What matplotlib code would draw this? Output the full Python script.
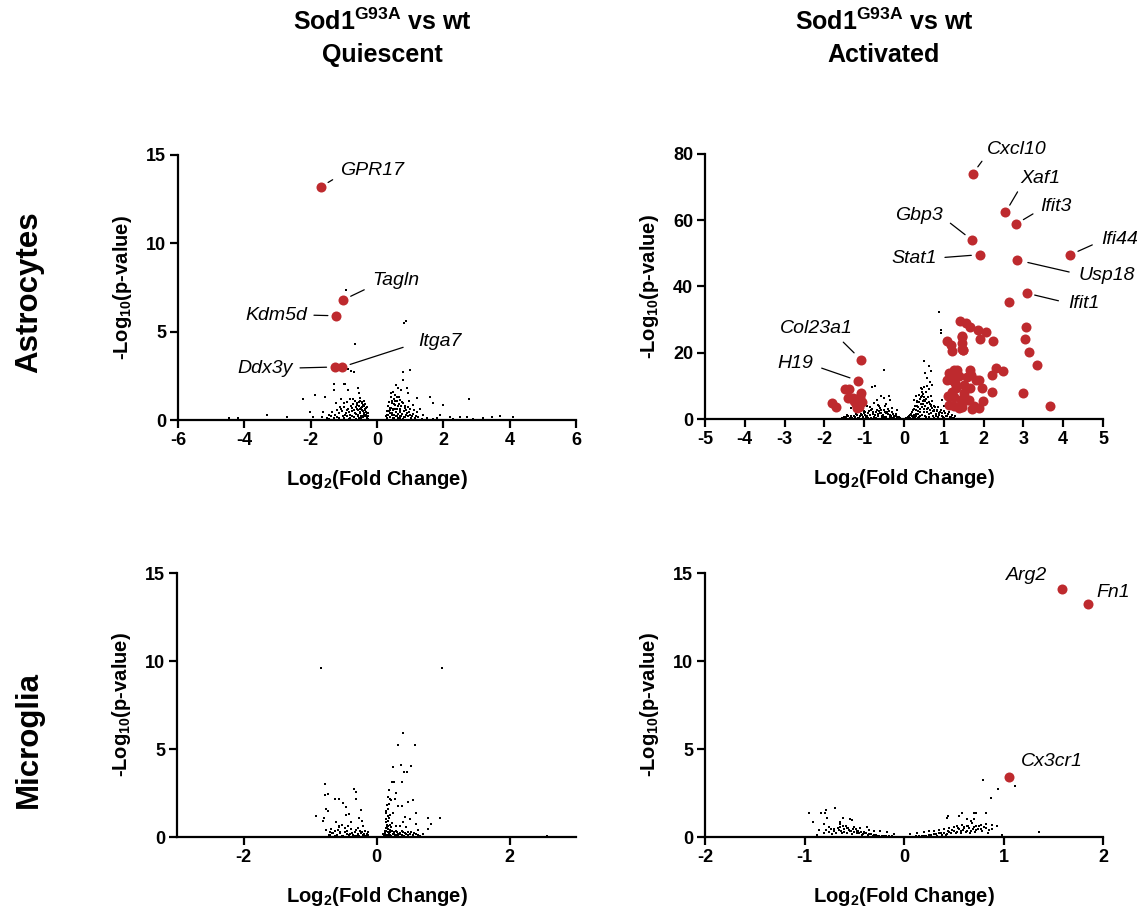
import matplotlib
matplotlib.use("Agg")
import matplotlib.pyplot as plt

plt.rcParams['font.family'] = ['Liberation Sans', 'DejaVu Sans']
plt.rcParams['mathtext.fontset'] = 'custom'
plt.rcParams['mathtext.rm'] = 'Liberation Sans'
plt.rcParams['mathtext.it'] = 'Liberation Sans:italic'
plt.rcParams['mathtext.bf'] = 'Liberation Sans:bold'
plt.rcParams['axes.unicode_minus'] = False

RED = '#BE2A2E'

# ---------------- Data ----------------
# Panel A: Astrocytes, Quiescent
a_q_bg_x = [-0.94, 0.82, 0.86, -0.66, -0.86, -0.78, -0.68, -1.31, -1.01, -0.96, -0.86, -0.56, -0.53, -0.81, -0.73,
            -1.29, -1.58, -2.22, -1.86, 0.77, 0.99, 0.79, 0.64, 0.71, 0.89, 0.94, 1.20, 0.59, 0.44, 0.69, 0.79, 0.94,
            0.49, 0.39, 0.69, 0.99, 1.20, 1.40, 1.60, 2.00, 1.70, 2.77, 2.20, 2.50, 2.70, 3.48, 3.70, 4.11, 1.90, 0.29,
            0.39, -1.25, -1.11, -1.01, -0.91, -0.76, -0.61, -0.46, -0.36, -0.31, -0.51, -0.66, -0.96, -1.16, -1.44,
            -1.62, -1.67, -4.45, -4.18, -3.32, -2.72, -2.02, -1.92, -0.55, -0.50, -0.45, -0.40, -0.35, -0.60, -0.42,
            -0.38, -0.48, -0.58, -0.70, -0.80, -0.85, -0.90, -1.00, -1.05, -1.20, -1.30, -1.35, -1.50, -0.30, -0.28,
            -0.33, -0.65, -0.72, -0.75, -0.90, -1.10, -0.62, -0.85, -0.50, -0.44, 0.30, 0.35, 0.40, 0.45, 0.50, 0.50,
            0.55, 0.55, 0.60, 0.62, 0.65, 0.70, 0.72, 0.75, 0.80, 0.85, 0.85, 0.90, 0.95, 1.00, 1.05, 1.10, 1.15, 1.25,
            1.35, 0.42, 0.48, 0.58, 0.52, 0.68, 0.78, 0.88, 1.30, 1.50, 1.70, 1.80, 2.30, 2.90, 3.20]
a_q_bg_y = [7.38, 5.51, 5.62, 4.28, 2.90, 2.77, 2.71, 2.04, 2.04, 2.04, 1.70, 1.80, 1.50, 1.20, 1.20,
            1.70, 1.30, 1.18, 1.41, 2.73, 2.85, 2.26, 1.79, 1.70, 1.79, 1.51, 1.26, 1.32, 0.94, 1.13, 0.94, 0.75,
            0.57, 0.38, 0.47, 0.28, 0.43, 0.28, 1.32, 0.85, 0.94, 1.19, 0.19, 0.19, 0.19, 0.19, 0.23, 0.15, 0.28, 0.28,
            0.19, 0.94, 0.75, 0.94, 0.57, 0.66, 0.85, 0.75, 0.57, 0.38, 0.47, 0.38, 0.28, 0.38, 0.28,
            0.47, 0.19, 0.13, 0.13, 0.28, 0.15, 0.47, 0.19, 1.00, 1.10, 0.95, 0.80, 0.90, 0.60, 0.50,
            0.30, 0.25, 0.20, 0.15, 0.30, 0.45, 0.20, 0.12, 0.50, 0.15, 0.10, 0.45, 0.10, 0.15, 0.05,
            0.70, 1.05, 0.90, 0.50, 1.00, 1.20, 0.05, 0.08, 0.60, 0.20, 0.10, 0.50, 0.70, 0.30, 0.90, 1.20,
            0.60, 1.05, 0.20, 0.80, 1.30, 0.60, 0.25, 1.00, 0.50, 0.80, 0.15, 0.40, 1.10, 0.60, 0.20, 0.85, 0.10, 0.15,
            0.08, 1.50, 1.60, 2.00, 0.12, 0.10, 0.06, 0.55, 0.60, 0.10, 0.05, 0.12, 0.08, 0.05, 0.10]
a_q_base_x = [-0.64, -0.62, -0.60, -0.57, -0.56, -0.54, -0.53, -0.52, -0.50, -0.49, -0.47, -0.46, -0.44, -0.43,
              -0.41, -0.40, -0.39, -0.37, -0.36, -0.34, -0.32, -0.30, -0.29, -0.27, -0.26, -0.70, -0.74, -0.78,
              -0.82, -0.88, -0.93, -0.98, -1.03, -1.08, -1.14, -1.20, -1.28, -1.38, -1.46,
              0.27, 0.29, 0.31, 0.33, 0.34, 0.36, 0.38, 0.40, 0.41, 0.43, 0.44, 0.46, 0.47, 0.49, 0.51, 0.53, 0.54,
              0.56, 0.57, 0.59, 0.61, 0.63, 0.64, 0.66, 0.68, 0.70, 0.73, 0.76, 0.80, 0.83, 0.87, 0.92, 0.97, 1.02,
              1.08, 1.12, 1.18]
a_q_base_y = [0.35, 0.72, 0.95, 0.30, 0.55, 0.82, 0.12, 1.25, 0.38, 0.70, 0.10, 1.00, 0.55, 0.85,
              0.15, 0.40, 1.10, 0.65, 0.20, 0.48, 0.30, 0.75, 0.12, 0.40, 0.20, 0.55, 0.25, 0.80,
              0.12, 0.65, 0.38, 0.75, 0.20, 0.60, 0.10, 0.55, 0.30, 0.20, 0.08,
              0.20, 0.50, 0.08, 0.80, 0.30, 1.00, 0.55, 0.15, 1.30, 0.70, 0.40, 1.10, 0.10, 0.60, 0.30, 1.40, 0.85,
              0.20, 0.45, 1.05, 0.65, 0.10, 0.35, 0.90, 0.50, 0.20, 0.80, 0.35, 0.15, 0.70, 0.30, 0.20, 0.45, 0.12,
              0.35, 0.55, 0.25]
a_q_genes = ['GPR17', 'Tagln', 'Kdm5d', 'Ddx3y', 'Itga7']
a_q_x = [-1.69, -1.02, -1.23, -1.27, -1.05]
a_q_y = [13.2, 6.8, 5.9, 3.0, 3.0]
a_q_lab_x = [-1.11, -0.15, -2.11, -2.53, 1.23]
a_q_lab_y = [14.1, 7.87, 5.94, 2.94, 4.43]

# Panel B: Astrocytes, Activated
a_a_bg_x = [0.88, 0.92, 0.92, -0.49, 0.50, 0.62, 0.67, 0.54, 0.58, 0.65, 0.71, 0.50, 0.42, 0.46, 0.37, 0.29, 0.25,
            0.33, 0.50, 0.58, 0.67, 0.75, 0.83, 0.88, 0.96, 1.00, 0.96, -0.80, -0.72, -0.59, -0.51, -0.38, -0.34,
            -0.67, -0.76, -0.93, -0.84, -1.01, -0.63, -0.47, -0.30, -0.17, -1.34, -1.43,
            -1.50, -1.40, -1.30, -1.20, -1.10, -1.00, -0.95, -0.90, -0.85, -0.80, -0.75, -0.70, -0.65, -0.60, -0.55,
            -0.50, -0.45, -0.40, -0.35, -0.30, -0.25, -0.20, -0.15, -0.10, -0.05, -1.15, -0.90, -0.70, -0.50, -0.30,
            -1.25, -1.05, -0.62, -0.42, -0.58, -0.78, -0.98, -0.20, -0.35,
            0.05, 0.10, 0.15, 0.20, 0.22, 0.25, 0.30, 0.32, 0.35, 0.38, 0.40, 0.42, 0.45, 0.48, 0.50, 0.52, 0.55,
            0.58, 0.60, 0.62, 0.65, 0.70, 0.72, 0.75, 0.80, 0.85, 0.90, 0.95, 1.00, 1.05, 1.10, 1.15, 1.20, 1.25,
            0.35, 0.55, 0.75, 0.68, 0.45, 0.30, 0.47, 0.57, 0.62, 0.40, 0.85, 1.00]
a_a_bg_y = [32.3, 26.9, 25.9, 14.7, 17.4, 15.9, 14.4, 13.9, 12.4, 11.3, 10.3, 9.6, 9.3, 8.3, 7.3, 6.8, 5.8,
            5.3, 5.8, 4.8, 3.8, 2.8, 2.3, 1.8, 5.8, 3.8, 1.8, 9.6, 10.0, 6.8, 6.3, 6.8, 5.8,
            5.8, 4.8, 3.8, 2.8, 1.8, 3.8, 3.8, 3.3, 2.8, 3.3, 1.3,
            0.5, 1.0, 0.4, 1.5, 0.8, 2.5, 0.6, 1.8, 1.2, 3.0, 0.7, 2.2, 1.5, 3.2, 0.9,
            2.6, 1.8, 3.0, 1.2, 2.0, 0.8, 1.4, 0.5, 0.3, 0.1, 0.2, 0.3, 0.4, 0.5, 0.3,
            0.9, 1.3, 2.4, 2.2, 1.9, 1.6, 1.1, 0.1, 0.6,
            0.2, 0.6, 1.2, 2.0, 0.5, 3.0, 1.4, 4.0, 2.4, 5.0, 1.0, 6.5, 3.5, 7.5, 2.0, 5.5, 8.0,
            3.0, 6.5, 1.5, 4.5, 5.5, 2.5, 4.0, 1.5, 3.5, 2.0, 1.0, 2.5, 0.8, 1.5, 0.5, 1.2, 0.4,
            0.3, 0.6, 0.3, 7.0, 9.0, 0.8, 4.5, 10.0, 9.0, 3.0, 0.6, 0.2]
a_a_base_x = [-1.55, -1.45, -1.35, -1.32, -1.22, -1.18, -1.12, -1.07, -1.02, -0.97, -0.92, -0.88, -0.83, -0.79,
              -0.74, -0.69, -0.66, -0.61, -0.57, -0.53, -0.48, -0.44, -0.41, -0.37, -0.33, -0.28, -0.24, -0.21,
              -0.17, -0.13, -0.08, -0.72, -0.55, -0.38, -1.00, -0.85, -0.65, -0.45,
              0.07, 0.12, 0.14, 0.17, 0.19, 0.23, 0.24, 0.27, 0.28, 0.31, 0.33, 0.34, 0.36, 0.37, 0.39, 0.41, 0.43,
              0.44, 0.46, 0.47, 0.49, 0.51, 0.53, 0.54, 0.56, 0.57, 0.59, 0.61, 0.63, 0.64, 0.66, 0.68, 0.69, 0.71,
              0.73, 0.76, 0.78, 0.81, 0.83, 0.87, 0.92, 0.97, 1.03, 1.08, 1.13, 1.18, 1.22, 1.28]
a_a_base_y = [0.3, 0.6, 0.2, 0.9, 0.5, 1.1, 0.3, 1.6, 0.5, 2.0, 0.9, 2.4, 0.4, 2.2,
              1.3, 2.7, 0.8, 1.9, 2.8, 1.3, 2.1, 0.6, 1.5, 2.3, 0.9, 1.5, 0.4, 0.9,
              0.3, 0.6, 0.15, 0.15, 0.2, 0.15, 0.1, 3.5, 4.2, 4.5,
              0.4, 1.0, 0.3, 1.6, 0.8, 2.6, 1.2, 3.8, 0.6, 2.6, 5.0, 1.5, 3.6, 0.5, 6.0, 2.0, 4.5,
              7.0, 1.2, 5.5, 3.0, 6.5, 1.0, 4.0, 6.0, 2.2, 4.8, 3.2, 5.0, 0.6, 2.8, 4.2, 1.8, 3.3,
              1.0, 2.4, 3.5, 0.8, 2.8, 1.3, 2.6, 0.6, 1.8, 1.0, 2.2, 0.6, 0.3, 0.8]
a_a_genes = ['Cxcl10', 'Xaf1', 'Ifit3', 'Gbp3', 'Stat1', 'Ifi44', 'Usp18', 'Ifit1', 'Col23a1', 'H19']
a_a_x = [1.73, 2.55, 2.82, 1.70, 1.90, 4.18, 2.84, 3.08, -1.08, -1.16]
a_a_y = [74.1, 62.4, 58.9, 54.1, 49.6, 49.6, 48.0, 38.0, 17.9, 11.6]
a_a_lab_x = [2.09, 2.93, 3.43, 0.985, 0.82, 4.96, 4.39, 4.12, -1.28, -2.27]
a_a_lab_y = [81.5, 72.7, 64.3, 61.3, 48.6, 54.3, 43.2, 35.0, 27.2, 16.7]
a_a_sig_x = [2.63, 1.40, 1.56, 1.67, 1.86, 2.05, 1.09, 1.46, 1.92, 2.23, 1.17, 1.21, 1.46, 1.49, 3.07, 3.04, 3.15,
             3.35, 1.13, 1.25, 1.34, 1.09, 1.21, 1.29, 1.17, 1.38, 1.30, 1.20, 1.10, 1.25, 1.13, 1.25, 1.38, 1.21,
             1.65, 1.69, 1.80, 1.88, 1.95, 1.65, 1.50, 1.42, 1.59, 1.76, 1.88, 1.99, 2.20, 2.22, 2.32, 2.48, 2.99,
             3.66, 1.46, 1.46, 1.49, 1.59, 1.50, 1.63, 1.46, 1.50, 1.71,
             -1.48, -1.38, -1.07, -1.40, -1.27, -1.10, -1.20, -1.13, -1.18, -1.82, -1.72, -1.25, -1.05]
a_a_sig_y = [35.4, 29.6, 29.1, 27.9, 26.9, 26.4, 23.6, 24.7, 24.1, 23.4, 22.4, 20.4, 21.1, 20.7, 27.7, 24.1, 20.1,
             16.4, 13.9, 14.9, 14.9, 11.9, 11.9, 10.8, 13.4, 13.0, 9.3, 8.3, 7.0, 6.5, 4.3, 3.8, 3.3, 6.8,
             14.9, 13.4, 11.9, 11.9, 9.3, 9.3, 7.8, 5.8, 5.8, 3.8, 3.3, 5.3, 8.3, 13.4, 15.4, 14.6, 7.8,
             3.8, 25.1, 22.9, 20.9, 12.8, 10.3, 5.8, 3.6, 6.8, 3.1,
             9.0, 9.0, 7.8, 6.3, 6.3, 6.5, 4.5, 3.5, 3.2, 4.8, 3.5, 5.5, 5.0]

# Panel C: Microglia, Quiescent
m_q_bg_x = [-0.83, 0.98, 0.40, 0.33, 0.58, 0.25, 0.37, 0.52, 0.41, 0.46, 0.23, 0.27, 0.39, 0.19, 0.29, 0.475,
            0.556, 0.20, 0.225, 0.275, 0.16, 0.325, 0.385, 0.60, 0.43, 0.50, 0.40, 0.60, 0.15, 0.20, 0.25, 0.14,
            0.175, 0.225, 0.35, 0.45, 0.626, 0.776, 0.827, 0.952, 0.776, 0.15, 0.20, 0.30, 0.40, 0.50, 0.35, 0.10,
            0.125, -0.772, -0.727, -0.777, -0.627, -0.562, -0.341, -0.301, -0.311, -0.502, -0.466, -0.762, -0.722,
            -0.913, -0.792, -0.812, -0.466, -0.411, -0.236, -0.261, -0.221, -0.201, -0.612, -0.567, -0.517, -0.376,
            -0.677, -0.627, -0.552, -0.451, -0.326, -0.251, -0.176, -0.126, -0.752, -0.702, -0.401, -0.276, -0.150,
            -0.60, -0.50, -0.45, -0.35, -0.30, -0.20, -0.15, -0.65, -0.58, -0.48, -0.38, -0.28, -0.22, -0.70, 0.12,
            0.18, 0.22, 0.28, 0.32, 0.38, 0.42, 0.45, 0.48, 0.55, 0.60, 0.65, 0.14, 0.16, 0.18, 0.17, 0.19, 0.21,
            0.24, 0.26, 0.30, 0.70, 2.56]
m_q_bg_y = [9.6, 9.6, 5.93, 5.25, 5.25, 3.95, 4.08, 4.04, 3.70, 3.68, 3.10, 3.10, 3.10, 2.68, 2.49, 1.98,
            2.13, 2.15, 2.12, 2.15, 1.83, 1.77, 1.74, 1.36, 1.15, 1.02, 0.83, 0.74, 1.36, 1.27, 1.36, 1.02,
            0.64, 0.55, 0.64, 0.55, 0.42, 1.09, 0.74, 1.09, 0.45, 0.36, 0.26, 0.36, 0.26, 0.17, 0.17, 0.17,
            0.36, 3.02, 2.44, 2.36, 2.15, 2.15, 2.70, 2.55, 2.15, 1.93, 1.70, 1.59, 1.49,
            1.21, 1.09, 0.89, 1.27, 1.30, 1.55, 1.09, 0.89, 0.64, 0.85, 0.64, 0.68, 0.83,
            0.45, 0.36, 0.26, 0.36, 0.26, 0.36, 0.32, 0.26, 0.42, 0.26, 0.17, 0.17, 0.17,
            0.10, 0.08, 0.15, 0.10, 0.05, 0.10, 0.05, 0.20, 0.40, 0.50, 0.45, 0.50, 0.30, 0.10, 0.05,
            0.10, 0.05, 0.10, 0.05, 0.10, 0.05, 0.15, 0.30, 0.10, 0.15, 0.05, 0.50, 0.70, 0.90, 1.60, 1.10, 0.40,
            0.80, 0.30, 0.60, 0.15, 0.07]
m_q_base_x = [-0.55, -0.52, -0.47, -0.42, -0.37, -0.33, -0.31, -0.27, -0.24, -0.19, -0.17, -0.13, -0.62, -0.67,
              -0.72, -0.57, -0.43, 0.11, 0.13, 0.15, 0.17, 0.19, 0.21, 0.23, 0.25, 0.27, 0.29, 0.31, 0.33, 0.36,
              0.39, 0.43, 0.47, 0.52, 0.57, 0.62, 0.15, 0.17, 0.16, 0.18, 0.20, 0.14, 0.19, 0.18]
m_q_base_y = [0.20, 0.05, 0.30, 0.10, 0.25, 0.08, 0.40, 0.08, 0.22, 0.18, 0.08, 0.12, 0.08, 0.25,
              0.10, 0.55, 0.60, 0.10, 0.25, 0.10, 0.30, 0.20, 0.12, 0.35, 0.15, 0.25, 0.10, 0.30, 0.15, 0.25,
              0.35, 0.20, 0.10, 0.30, 0.20, 0.12, 0.85, 1.20, 0.55, 0.45, 0.70, 1.50, 1.90, 2.30]

# Panel D: Microglia, Activated
m_a_bg_x = [0.79, 1.12, 0.94, 0.87, 1.36, 0.828, 0.703, 0.72, 0.586, 0.435, 0.441, 0.552, 0.636, 0.67, 0.703,
            0.821, 0.888, 0.932, 0.77, 0.636, 0.602, 0.536, 0.502, 0.451, 0.40, 0.35, 0.30, 0.25, 0.20, 0.133,
            0.065, 0.569, 0.67, 0.72, 0.989, -0.958, -0.918, -0.831, -0.79, -0.78, -0.697, -0.773, -0.807, -0.612,
            -0.546, -0.522, -0.646, -0.757, -0.707, -0.64, -0.572, -0.505, -0.438, -0.371, -0.354, -0.304, -0.237,
            -0.169, -0.102, -0.874, -0.723, -0.606, -0.539, -0.471, -0.404, -0.64, -0.75, -0.70, -0.65, -0.60,
            -0.55, -0.50, -0.45, -0.40, -0.35, -0.30, -0.25, -0.20, -0.15, -0.10, -0.05, 0.0, 0.05, 0.10, 0.15,
            0.20, 0.25, 0.30, 0.35, 0.40, 0.45, 0.50, 0.55, 0.60, 0.65, 0.70, 0.75, 0.80, -0.62, -0.52, -0.42,
            0.42, 0.52, 0.62, 0.72, -0.48, -0.58, 0.58, 0.68, 0.85, -0.80, -0.85]
m_a_bg_y = [3.23, 2.87, 2.70, 2.21, 0.28, 1.36, 1.36, 1.36, 1.36, 1.09, 1.17, 1.17, 1.02, 0.89, 1.02,
            0.74, 0.68, 0.64, 0.45, 0.64, 0.55, 0.64, 0.55, 0.51, 0.45, 0.42, 0.36, 0.32, 0.26, 0.23,
            0.17, 0.36, 0.36, 0.64, 0.11, 1.36, 0.83, 1.36, 1.36, 1.51, 1.64, 1.09, 0.74, 1.09,
            1.02, 0.98, 0.83, 0.55, 0.45, 0.55, 0.51, 0.55, 0.51, 0.55, 0.42, 0.36, 0.32,
            0.26, 0.17, 0.11, 0.17, 0.26, 0.36, 0.36, 0.26, 0.74, 0.30, 0.35, 0.40, 0.45,
            0.40, 0.30, 0.25, 0.20, 0.15, 0.12, 0.08, 0.05, 0.03, 0.02, 0.01, 0.0, 0.01, 0.02, 0.04,
            0.06, 0.10, 0.15, 0.20, 0.25, 0.30, 0.35, 0.45, 0.50, 0.50, 0.55, 0.60, 0.55, 0.20, 0.15, 0.10,
            0.12, 0.20, 0.30, 0.40, 0.45, 0.60, 0.70, 0.80, 0.40, 0.20, 0.40]
m_a_base_x = [-0.78, -0.73, -0.68, -0.66, -0.63, -0.61, -0.57, -0.56, -0.53, -0.51, -0.47, -0.46, -0.43, -0.41,
              -0.38, -0.36, -0.33, -0.31, -0.28, -0.26, -0.22, -0.18, -0.12, -0.08, 0.08, 0.12, 0.18, 0.22, 0.27,
              0.32, 0.33, 0.37, 0.38, 0.43, 0.44, 0.47, 0.48, 0.53, 0.54, 0.57, 0.59, 0.63, 0.64, 0.66, 0.69, 0.71,
              0.74, 0.77, 0.78, 0.82, 0.84, 0.88]
m_a_base_y = [0.40, 0.45, 0.20, 0.50, 0.35, 0.60, 0.25, 0.50, 0.35, 0.45, 0.20, 0.35, 0.30, 0.15,
              0.22, 0.10, 0.18, 0.08, 0.12, 0.05, 0.08, 0.04, 0.03, 0.01, 0.01, 0.03, 0.05, 0.08, 0.12,
              0.18, 0.08, 0.22, 0.12, 0.18, 0.35, 0.22, 0.42, 0.30, 0.50, 0.25, 0.42, 0.35, 0.60, 0.25, 0.45, 0.30,
              0.48, 0.70, 0.35, 0.50, 0.25, 0.45]
m_a_genes = ['Arg2', 'Fn1', 'Cx3cr1']
m_a_x = [1.586, 1.85, 1.06]
m_a_y = [14.1, 13.25, 3.40]
m_a_lab_x = [1.44, 1.93, 1.18]
m_a_lab_y = [14.87, 13.87, 4.29]

# ---------------- Figure ----------------
fig = plt.figure(figsize=(11.43, 9.13), dpi=100)
W, H = 1143, 913


def make_ax(l, t, r, b):
    return fig.add_axes([l / W, 1 - b / H, (r - l) / W, (b - t) / H])


def style(ax, xlim, xticks, ylim, yticks):
    ax.set_xlim(*xlim)
    ax.set_ylim(*ylim)
    ax.set_xticks(xticks)
    ax.set_yticks(yticks)
    for s in ['top', 'right']:
        ax.spines[s].set_visible(False)
    for s in ['left', 'bottom']:
        ax.spines[s].set_linewidth(1.6)
    ax.tick_params(direction='out', length=5.5, width=1.6, labelsize=13, pad=3)
    for lab in ax.get_xticklabels() + ax.get_yticklabels():
        lab.set_fontweight('bold')
    ax.set_xlabel(r'Log$_{\mathbf{2}}$(Fold Change)', fontsize=14.5, fontweight='bold', labelpad=13.5)
    ax.set_ylabel(r'-Log$_{\mathbf{10}}$(p-value)', fontsize=14.5, fontweight='bold', labelpad=9)
    ax.patch.set_alpha(0)


def bg(ax, x, y):
    ax.scatter(x, y, s=3.5, c='black', marker='s', linewidths=0, zorder=2, clip_on=False)


def sig(ax, x, y):
    ax.scatter(x, y, s=52, c=RED, linewidths=0, zorder=3, clip_on=False)


def lab(ax, txt, pt, pos, ha, va='center', line=True, relpos=(0, 0.5), shrinkA=2, shrinkB=6):
    props = dict(arrowstyle='-', lw=0.9, color='black', relpos=relpos,
                 shrinkA=shrinkA, shrinkB=shrinkB) if line else None
    ax.annotate(txt, xy=pt, xytext=pos, textcoords='data', ha=ha, va=va,
                fontsize=14, fontstyle='italic', arrowprops=props, annotation_clip=False, zorder=4)


# Panel A
ax1 = make_ax(178, 155, 576, 420)
style(ax1, (-6, 6), [-6, -4, -2, 0, 2, 4, 6], (0, 15), [0, 5, 10, 15])
bg(ax1, a_q_bg_x, a_q_bg_y)
bg(ax1, a_q_base_x, a_q_base_y)
sig(ax1, a_q_x, a_q_y)
specs1 = [('left', (0, 0.25), 4, 6), ('left', (0, 0.2), 4, 6), ('right', (1, 0.5), 3, 6),
          ('right', (1, 0.5), 3, 6), ('left', (0, 0.45), 9, 6)]
for g, x, y, lx, ly, sp in zip(a_q_genes, a_q_x, a_q_y, a_q_lab_x, a_q_lab_y, specs1):
    lab(ax1, g, (x, y), (lx, ly), sp[0], relpos=sp[1], shrinkA=sp[2], shrinkB=sp[3])

# Panel B
ax2 = make_ax(705, 154, 1103, 419)
style(ax2, (-5, 5), list(range(-5, 6)), (0, 80), [0, 20, 40, 60, 80])
bg(ax2, a_a_bg_x, a_a_bg_y)
bg(ax2, a_a_base_x, a_a_base_y)
sig(ax2, a_a_sig_x, a_a_sig_y)
sig(ax2, a_a_x, a_a_y)
specs2 = [('left', (0, 0.2), 3, 6), ('left', (0, 0.0), 2, 6), ('left', (0, 0.3), 4, 6),
          ('right', (1, 0.4), 4, 6), ('right', (1, 0.5), 4, 6), ('left', (0, 0.4), 5, 6),
          ('left', (0, 0.6), 5, 8), ('left', (0, 0.5), 5, 6), ('right', (0.8, 0.0), 2, 7),
          ('right', (1, 0.4), 4, 6)]
for g, x, y, lx, ly, sp in zip(a_a_genes, a_a_x, a_a_y, a_a_lab_x, a_a_lab_y, specs2):
    lab(ax2, g, (x, y), (lx, ly), sp[0], relpos=sp[1], shrinkA=sp[2], shrinkB=sp[3])

# Panel C
ax3 = make_ax(177, 573, 576, 837)
style(ax3, (-3, 3), [-2, 0, 2], (0, 15), [0, 5, 10, 15])
bg(ax3, m_q_bg_x, m_q_bg_y)
bg(ax3, m_q_base_x, m_q_base_y)

# Panel D
ax4 = make_ax(705, 573, 1103, 837)
style(ax4, (-2, 2), [-2, -1, 0, 1, 2], (0, 15), [0, 5, 10, 15])
bg(ax4, m_a_bg_x, m_a_bg_y)
bg(ax4, m_a_base_x, m_a_base_y)
sig(ax4, m_a_x, m_a_y)
has = ['right', 'left', 'left']
for g, x, y, lx, ly, ha in zip(m_a_genes, m_a_x, m_a_y, m_a_lab_x, m_a_lab_y, has):
    lab(ax4, g, (x, y), (lx, ly), ha, line=False)

# Titles
for cx, sub in [(382, 'Quiescent'), (884, 'Activated')]:
    fig.text(cx / W, 1 - 22 / H, r'Sod1$^{\mathbf{G93A}}$ vs wt', ha='center', va='center',
             fontsize=18, fontweight='bold')
    fig.text(cx / W, 1 - 55 / H, sub, ha='center', va='center', fontsize=18, fontweight='bold')

# Row labels
fig.text(29 / W, 1 - 292 / H, 'Astrocytes', rotation=90, ha='center', va='center', fontsize=22.5, fontweight='bold')
fig.text(29 / W, 1 - 739 / H, 'Microglia', rotation=90, ha='center', va='center', fontsize=22.5, fontweight='bold')

fig.savefig('out.png', dpi=100)
